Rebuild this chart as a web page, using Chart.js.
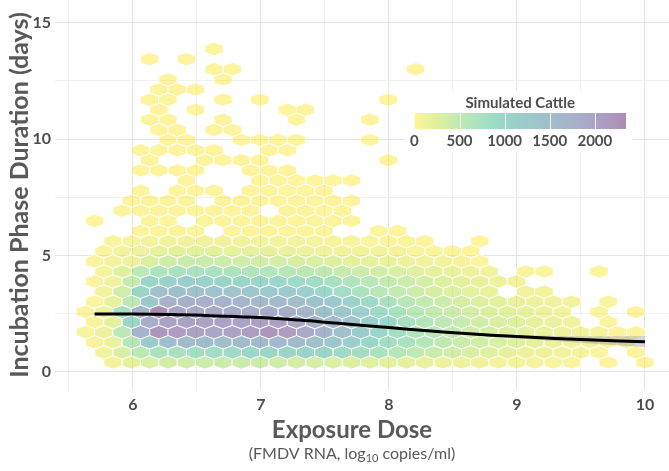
<!DOCTYPE html>
<html>
<head>
<meta charset="utf-8">
<title>Incubation phase duration vs exposure dose</title>
<script src="https://cdn.jsdelivr.net/npm/chart.js@4.4.1/dist/chart.umd.min.js"></script>
<style>
  html, body { margin: 0; padding: 0; background: #ffffff; }
  #wrap { width: 669px; height: 471px; }
</style>
</head>
<body>
<div id="wrap"><canvas id="hexChart" width="669" height="471"></canvas></div>
<script>
// Hex bin centres: x (log10 dose) for even / odd rows, y (days) for each row
const colXEven = [5.701, 5.844, 5.988, 6.131, 6.274, 6.418, 6.561, 6.704, 6.847, 6.991, 7.134,
  7.277, 7.421, 7.564, 7.707, 7.851, 7.994, 8.137, 8.280, 8.424, 8.567, 8.710, 8.854, 8.997,
  9.140, 9.284, 9.427, 9.570, 9.713, 9.857, 10.000];
const colXOdd = [5.629, 5.773, 5.916, 6.059, 6.203, 6.346, 6.489, 6.633, 6.776, 6.919, 7.063,
  7.206, 7.349, 7.492, 7.636, 7.779, 7.922, 8.066, 8.209, 8.352, 8.496, 8.639, 8.782, 8.926,
  9.069, 9.212, 9.355, 9.499, 9.642, 9.785, 9.929];
const rowY = [0.40, 0.83, 1.27, 1.70, 2.14, 2.57, 3.01, 3.44, 3.88, 4.31, 4.74, 5.18, 5.61,
  6.05, 6.48, 6.92, 7.35, 7.78, 8.22, 8.65, 9.09, 9.52, 9.96, 10.39, 10.83, 11.26, 11.69,
  12.13, 12.56, 13.00, 13.43, 13.87];

// Simulated cattle per hex, one list per row (bottom row first), 0 = empty
const hexCounts = [
  [0, 80, 200, 300, 350, 380, 400, 420, 420, 400, 380, 350, 330, 300, 280, 250, 230, 200, 180, 150, 130, 110, 90, 70, 60, 50, 40, 0, 20, 0, 15],
  [0, 100, 300, 550, 700, 750, 800, 850, 900, 950, 950, 1000, 1050, 1000, 900, 800, 700, 600, 500, 420, 350, 300, 250, 200, 160, 130, 100, 70, 40, 0, 20],
  [60, 150, 600, 1200, 1500, 1600, 1550, 1500, 1550, 1600, 1600, 1550, 1450, 1300, 1150, 950, 800, 700, 600, 500, 420, 350, 300, 250, 200, 160, 120, 80, 50, 30],
  [40, 150, 550, 1700, 2200, 2100, 2000, 1950, 2000, 2100, 2200, 2100, 1900, 1700, 1450, 1200, 1000, 800, 650, 550, 450, 380, 320, 260, 210, 170, 130, 90, 60, 20, 25],
  [50, 200, 950, 1800, 2000, 2000, 2000, 2000, 2000, 2050, 2050, 1950, 1800, 1600, 1400, 1150, 950, 750, 620, 520, 440, 370, 300, 250, 200, 160, 120, 0, 50],
  [40, 150, 750, 1700, 2345, 2000, 1900, 1900, 1850, 1800, 1850, 1800, 1650, 1450, 1300, 1100, 900, 700, 580, 480, 400, 330, 270, 220, 180, 140, 100, 0, 40, 0, 25],
  [40, 180, 550, 1300, 1750, 1800, 1750, 1700, 1650, 1600, 1550, 1500, 1400, 1250, 1050, 900, 720, 580, 480, 400, 330, 270, 220, 180, 140, 110, 80, 0, 30],
  [0, 80, 380, 1000, 1450, 1500, 1450, 1400, 1350, 1300, 1250, 1200, 1100, 950, 820, 690, 570, 470, 390, 320, 260, 210, 170, 0, 110, 90],
  [40, 120, 450, 950, 1100, 1150, 1100, 1050, 1000, 1000, 950, 900, 850, 750, 650, 560, 480, 400, 330, 270, 220, 170, 130, 100],
  [0, 60, 250, 520, 680, 720, 720, 700, 670, 640, 620, 590, 550, 500, 450, 400, 350, 300, 250, 200, 160, 130, 100, 0, 50, 40, 0, 0, 20],
  [30, 80, 150, 280, 380, 420, 420, 400, 380, 360, 340, 320, 300, 270, 240, 200, 170, 140, 110, 80, 60, 40],
  [0, 40, 80, 150, 200, 220, 230, 220, 210, 200, 190, 180, 160, 140, 120, 100, 80, 60, 40, 30, 20, 10],
  [0, 30, 50, 80, 100, 120, 120, 110, 100, 100, 90, 80, 70, 60, 50, 40, 30, 20, 15, 0, 0, 10],
  [0, 0, 0, 20, 25, 30, 30, 0, 25, 25, 25, 20, 20, 15, 0, 0, 10, 10],
  [10, 0, 0, 20, 25, 0, 30, 30, 30, 25, 25, 20, 20, 15, 15],
  [0, 0, 15, 20, 20, 25, 25, 25, 20, 20, 0, 15, 15, 10, 10],
  [0, 0, 10, 15, 15, 15, 0, 15, 15, 15, 12, 12, 10, 10, 8],
  [0, 0, 0, 10, 0, 12, 12, 12, 0, 12, 10, 10, 8, 8],
  [0, 0, 0, 0, 0, 10, 0, 0, 0, 10, 10, 8, 8, 6, 6],
  [0, 0, 0, 8, 8, 8, 8, 0, 0, 8, 8, 8],
  [0, 0, 0, 6, 0, 0, 6, 6, 6, 6, 0, 0, 0, 0, 0, 0, 4],
  [0, 0, 0, 6, 6, 6, 6, 6, 0, 0, 5, 5],
  [0, 0, 0, 0, 5, 5, 0, 0, 5, 5, 5, 5, 0, 0, 0, 4],
  [0, 0, 0, 0, 4, 4, 0, 4, 4],
  [0, 0, 0, 4, 4, 0, 0, 4, 0, 0, 0, 3, 0, 0, 0, 3],
  [0, 0, 0, 0, 3, 0, 3, 0, 0, 0, 0, 3, 3],
  [0, 0, 0, 3, 3, 0, 0, 3, 0, 3, 0, 0, 0, 0, 0, 0, 2],
  [0, 0, 0, 0, 2, 2, 2],
  [0, 0, 0, 0, 2, 0, 0, 2],
  [0, 0, 0, 0, 0, 0, 0, 2, 2, 0, 0, 0, 0, 0, 0, 0, 0, 0, 1],
  [0, 0, 0, 2, 0, 2],
  [0, 0, 0, 0, 0, 0, 0, 1]
];

// Smoothed trend (black line) and its confidence band
const smoothX = [5.70, 6.0, 6.3, 6.6, 7.0, 7.3, 7.6, 8.0, 8.3, 8.6, 9.0, 9.3, 9.6, 10.0];
const smoothY = [2.48, 2.48, 2.46, 2.41, 2.33, 2.22, 2.08, 1.90, 1.76, 1.64, 1.51, 1.43, 1.36, 1.29];
const smoothLow = [2.42, 2.45, 2.44, 2.39, 2.31, 2.20, 2.06, 1.88, 1.73, 1.60, 1.44, 1.32, 1.20, 1.05];
const smoothHigh = [2.54, 2.51, 2.48, 2.43, 2.35, 2.24, 2.10, 1.92, 1.79, 1.68, 1.58, 1.54, 1.52, 1.53];

// Axis grid positions and colour bar range
const xGridValues = [5.5, 6, 6.5, 7, 7.5, 8, 8.5, 9, 9.5, 10];
const yGridValues = [0, 2.5, 5, 7.5, 10, 12.5, 15];
const legendTicks = [0, 500, 1000, 1500, 2000];
const countMin = 1;
const countMax = 2345;

// bin size in data units
const hexWidth = 0.1433;
const rowStep = 0.4344;
const hexAlpha = 0.45;

const viridisStops = ['#440154', '#482475', '#414487', '#355f8d', '#2a788e', '#21918c',
  '#22a884', '#44bf70', '#7ad151', '#bddf26', '#fde725'];

function hexToRgb(h) {
  return [parseInt(h.slice(1, 3), 16), parseInt(h.slice(3, 5), 16), parseInt(h.slice(5, 7), 16)];
}

function viridis(t, alpha) {
  t = Math.min(1, Math.max(0, t));
  const pos = t * (viridisStops.length - 1);
  const i = Math.min(Math.floor(pos), viridisStops.length - 2);
  const f = pos - i;
  const a = hexToRgb(viridisStops[i]);
  const b = hexToRgb(viridisStops[i + 1]);
  const c = a.map((v, k) => Math.round(v + (b[k] - v) * f));
  return `rgba(${c[0]}, ${c[1]}, ${c[2]}, ${alpha})`;
}

// low counts yellow, high counts purple
function countColor(count) {
  return viridis(1 - (count - countMin) / (countMax - countMin), hexAlpha);
}

const hexPoints = [];
hexCounts.forEach((row, r) => {
  const cols = r % 2 === 0 ? colXEven : colXOdd;
  row.forEach((count, c) => {
    if (count > 0) hexPoints.push({ x: cols[c], y: rowY[r], count: count });
  });
});

const hexPlugin = {
  id: 'hexbins',
  beforeDatasetsDraw(chart) {
    const ctx = chart.ctx;
    const xs = chart.scales.x;
    const ys = chart.scales.y;
    const meta = chart.getDatasetMeta(0);
    const hw = Math.abs(xs.getPixelForValue(hexWidth) - xs.getPixelForValue(0)) / 2;
    const h = Math.abs(ys.getPixelForValue(rowStep) - ys.getPixelForValue(0)) / 3;
    ctx.save();
    ctx.lineWidth = 1;
    ctx.strokeStyle = 'rgba(255, 255, 255, 0.9)';
    meta.data.forEach((pt, i) => {
      const d = chart.data.datasets[0].data[i];
      const px = pt.x;
      const py = pt.y;
      ctx.beginPath();
      ctx.moveTo(px, py - 2 * h);
      ctx.lineTo(px + hw, py - h);
      ctx.lineTo(px + hw, py + h);
      ctx.lineTo(px, py + 2 * h);
      ctx.lineTo(px - hw, py + h);
      ctx.lineTo(px - hw, py - h);
      ctx.closePath();
      ctx.fillStyle = countColor(d.count);
      ctx.fill();
      ctx.stroke();
    });
    ctx.restore();
  }
};

const decorPlugin = {
  id: 'decor',
  afterDraw(chart) {
    const ctx = chart.ctx;
    const area = chart.chartArea;
    ctx.save();

    // colour bar legend
    const barLeft = 414.5, barTop = 113, barW = 211.5, barH = 16;
    ctx.fillStyle = '#ffffff';
    ctx.fillRect(405, 91, 228, 62);
    ctx.fillStyle = '#4d4d4d';
    ctx.font = 'bold 15px Lato';
    ctx.textAlign = 'center';
    ctx.textBaseline = 'middle';
    ctx.fillText('Simulated Cattle', barLeft + barW / 2, 103);

    const grad = ctx.createLinearGradient(barLeft, 0, barLeft + barW, 0);
    for (let k = 0; k <= 20; k++) {
      grad.addColorStop(k / 20, viridis(1 - k / 20, hexAlpha));
    }
    ctx.fillStyle = grad;
    ctx.fillRect(barLeft, barTop, barW, barH);

    ctx.font = 'bold 15px Lato';
    legendTicks.forEach(v => {
      const tx = barLeft + (v - countMin) / (countMax - countMin) * barW;
      if (v > 0) {
        ctx.strokeStyle = 'rgba(255, 255, 255, 0.85)';
        ctx.lineWidth = 1;
        ctx.beginPath();
        ctx.moveTo(Math.round(tx) + 0.5, barTop);
        ctx.lineTo(Math.round(tx) + 0.5, barTop + barH);
        ctx.stroke();
      }
      ctx.fillStyle = '#4d4d4d';
      ctx.fillText(String(v), tx, 141);
    });

    // x axis title and subtitle
    const cx = (area.left + area.right) / 2 - 10;
    ctx.fillStyle = '#595959';
    ctx.font = 'bold 24px Lato';
    ctx.fillText('Exposure Dose', cx, 430);

    const partA = '(FMDV RNA, log';
    const partSub = '10';
    const partB = ' copies/ml)';
    ctx.font = '16px Lato';
    const wA = ctx.measureText(partA).width;
    const wB = ctx.measureText(partB).width;
    ctx.font = '11px Lato';
    const wS = ctx.measureText(partSub).width;
    let sx = cx - (wA + wS + wB) / 2;
    ctx.textAlign = 'left';
    ctx.font = '16px Lato';
    ctx.fillText(partA, sx, 453.5);
    sx += wA;
    ctx.font = '11px Lato';
    ctx.fillText(partSub, sx, 458);
    sx += wS;
    ctx.font = '16px Lato';
    ctx.fillText(partB, sx, 453.5);

    ctx.restore();
  }
};

const tickFont = { family: 'Lato', size: 16, weight: 'bold' };

new Chart(document.getElementById('hexChart'), {
  type: 'scatter',
  data: {
    datasets: [
      {
        label: 'Simulated Cattle',
        data: hexPoints,
        pointRadius: 0,
        pointHoverRadius: 0,
        order: 3
      },
      {
        label: 'lower',
        type: 'line',
        data: smoothX.map((x, i) => ({ x: x, y: smoothLow[i] })),
        borderWidth: 0,
        pointRadius: 0,
        tension: 0.4,
        fill: false,
        order: 2
      },
      {
        label: 'upper',
        type: 'line',
        data: smoothX.map((x, i) => ({ x: x, y: smoothHigh[i] })),
        borderWidth: 0,
        pointRadius: 0,
        tension: 0.4,
        fill: '-1',
        backgroundColor: 'rgba(153, 153, 153, 0.4)',
        order: 1
      },
      {
        label: 'smooth',
        type: 'line',
        data: smoothX.map((x, i) => ({ x: x, y: smoothY[i] })),
        borderColor: '#000000',
        borderWidth: 3,
        pointRadius: 0,
        tension: 0.4,
        fill: false,
        order: 0
      }
    ]
  },
  options: {
    responsive: false,
    animation: false,
    layout: { padding: 0 },
    plugins: {
      legend: { display: false },
      tooltip: { enabled: false }
    },
    scales: {
      x: {
        type: 'linear',
        min: 5.391,
        max: 10.188,
        afterBuildTicks: s => { s.ticks = xGridValues.map(v => ({ value: v })); },
        afterFit: s => { s.height = 81; s.paddingLeft = 0; s.paddingRight = 0; },
        border: { display: false },
        grid: {
          drawTicks: false,
          lineWidth: 1,
          color: c => (c.tick && Number.isInteger(c.tick.value)) ? '#e5e5e5' : '#f0f0f0'
        },
        ticks: {
          padding: 5,
          color: '#4d4d4d',
          font: tickFont,
          autoSkip: false,
          maxRotation: 0,
          callback: v => Number.isInteger(v) ? String(v) : ''
        }
      },
      y: {
        type: 'linear',
        min: -0.786,
        max: 15.976,
        afterBuildTicks: s => { s.ticks = yGridValues.map(v => ({ value: v })); },
        afterFit: s => { s.width = 55; s.paddingTop = 0; s.paddingBottom = 0; },
        border: { display: false },
        grid: {
          drawTicks: false,
          lineWidth: 1,
          color: c => (c.tick && c.tick.value % 5 === 0) ? '#e5e5e5' : '#f0f0f0'
        },
        ticks: {
          padding: 4,
          color: '#4d4d4d',
          font: tickFont,
          autoSkip: false,
          callback: v => (v % 5 === 0) ? String(v) : ''
        },
        title: {
          display: true,
          text: 'Incubation Phase Duration (days)',
          color: '#595959',
          font: { family: 'Lato', size: 25, weight: 'bold' },
          padding: { top: 5, bottom: 0 }
        }
      }
    }
  },
  plugins: [hexPlugin, decorPlugin]
});
</script>
</body>
</html>
